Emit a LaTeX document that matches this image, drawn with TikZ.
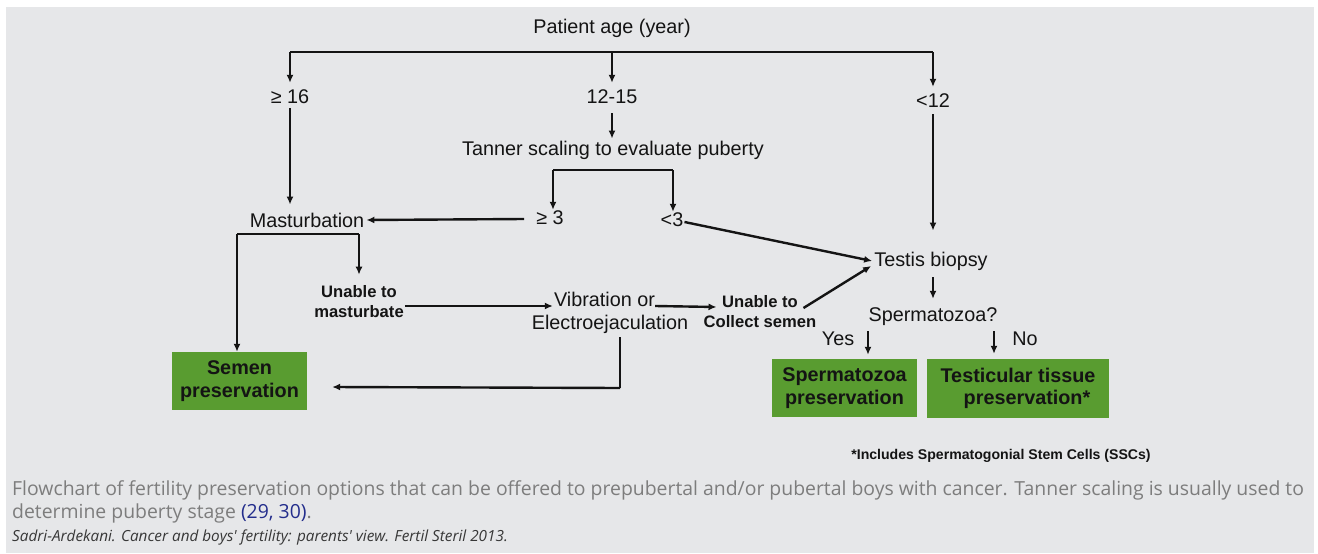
\documentclass[tikz,border=0pt]{standalone}
\usepackage{fontspec}
\setmainfont{Liberation Sans}
\newfontfamily\capfont{Open Sans}
\usetikzlibrary{arrows.meta,calc}
\definecolor{bg}{RGB}{230,231,233}
\definecolor{grn}{RGB}{89,156,48}
\definecolor{capgray}{RGB}{125,125,125}
\definecolor{refblue}{RGB}{35,45,140}
\definecolor{ink}{RGB}{20,20,20}
\begin{document}
\begin{tikzpicture}[x=1pt,y=-1pt,
  lbl/.style={font=\fontsize{19.8}{23}\selectfont, inner sep=4pt, text=ink},
  blbl/.style={font=\fontsize{16.6}{20}\selectfont\bfseries, align=center, inner sep=2pt, text=ink},
  box/.style={fill=grn, font=\fontsize{19.8}{22.5}\selectfont\bfseries, align=center, inner sep=0pt, text=ink},
  arr/.style={-{Latex[length=8pt,width=7pt]}, line width=1.8pt, draw=ink},
  harr/.style={-{Latex[length=8pt,width=7pt]}, line width=2.4pt, draw=ink},
  ln/.style={line width=1.2pt, draw=ink}]
\useasboundingbox (0,0) rectangle (1318,554);
\fill[white] (0,0) rectangle (1318,554);
\fill[bg] (6,7) rectangle (1314,553);

% text nodes
\node[lbl] (age) at (612,28) {Patient age (year)};
\node[lbl] (a16) at (290,97) {≥ 16};
\node[lbl] (a1215) at (612,97) {12-15};
\node[lbl] (a12) at (933,101) {<12};
\node[lbl] (tanner) at (613,150) {Tanner scaling to evaluate puberty};
\node[lbl] (t3) at (550,218) {≥ 3};
\node[lbl] (t31) at (672,220) {<3};
\node[lbl] (mast) at (307,220) {Masturbation};
\node[blbl] (unm) at (359,302) {Unable to\\masturbate};
\node[lbl] (vib1) at (604.5,299) {Vibration or};
\node[lbl] (vib2) at (610,324) {Electroejaculation};
\node[blbl] (unc) at (760,312) {Unable to\\Collect semen};
\node[lbl] (testis) at (931,261) {Testis biopsy};
\node[lbl] (spq) at (933,317) {Spermatozoa?};
\node[lbl] (yes) at (838,339) {Yes};
\node[lbl] (no) at (1025,339) {No};

% boxes
\node[box, minimum width=135pt, minimum height=58pt] (semen) at (239.5,381) {Semen\\preservation};
\node[box, minimum width=145pt, minimum height=58pt] (spbox) at (844.5,388) {Spermatozoa\\preservation};
\node[box, minimum width=182pt, minimum height=59pt] (ttbox) at (1018,388.5) {Testicular tissue\\\hspace*{18pt}preservation*};

% coordinates
\coordinate (barL) at (290,52);
\coordinate (barR) at (933,52);
\coordinate (tbl) at (553,170);
\coordinate (tbr) at (673,170);
\coordinate (mbl) at (237,234);
\coordinate (mbr) at (359,234);
\coordinate (ex) at (620,0);
\coordinate (ec) at (620,388);
\coordinate (yesx) at (868,0);
\coordinate (nox) at (994,0);

% top bar
\draw[ln] (barL) -- (barR);
\draw[arr] (barL) -- ($(a16.north)+(0,-3)$);
\draw[arr] (a1215.north |- barL) -- ($(a1215.north)+(0,-3)$);
\draw[arr] (barR) -- ($(a12.north)+(0,-3)$);

% >=16 to masturbation
\draw[arr] (a16.south) -- ($(a16.south |- mast.north)+(0,-4)$);
% 12-15 to tanner
\draw[arr] ($(a1215.south)+(0,5)$) -- ($(a1215.south |- tanner.north)+(0,2)$);
% tanner bracket
\draw[ln] (tbl) -- (tbr);
\draw[arr] (tbl) -- ($(tbl |- t3.north)+(0,3)$);
\draw[arr] (tbr) -- ($(tbr |- t31.north)+(0,3)$);
% >=3 to masturbation
\draw[harr] ($(t3.west)+(-8,1)$) -- ($(mast.east)+(-2,0)$);
% <3 to testis
\draw[harr] ($(t31.east)+(-3,2)$) -- ($(testis.west)+(2,0)$);
% <12 to testis
\draw[arr] ($(a12.south)+(0,2)$) -- ($(testis.north)+(2,-17)$);

% masturbation branch
\draw[ln] (mbl) -- (mbr);
\draw[arr] (mbl) -- (mbl |- semen.north);
\draw[arr] (mbr) -- ($(unm.north)+(0,-9)$);
\draw[harr] ($(unm.east)+(-1,4)$) -- ($(vib1.west)+(3,7)$);
\draw[harr] ($(vib1.east)+(-4,7)$) -- ($(unc.west)+(15,-5)$);
\draw[harr] ($(unc.east)+(-15,-4)$) -- ($(testis.west)+(1,5)$);

% electroejaculation to semen
\draw[ln] (vib2.south -| ex) -- (ec);
\draw[harr] (ec) -- ($(semen.east)+(25,6)$);

% testis to spermatozoa?
\draw[arr] ($(testis.south -| spq.north)+(0,3)$) -- ($(spq.north)+(0,-5)$);
\draw[arr] ($(spq.south -| yesx)+(0,1)$) -- ($(spbox.north -| yesx)+(0,-4)$);
\draw[arr] ($(spq.south -| nox)+(0,1)$) -- ($(ttbox.north -| nox)+(0,-5)$);

% footnote and caption
\node[font=\fontsize{14.1}{16}\selectfont\bfseries, text=ink, inner sep=0pt] (fn) at (1001,456) {*Includes Spermatogonial Stem Cells (SSCs)};
\node[font=\capfont\fontsize{19.4}{23.5}\selectfont, text=capgray, align=left, anchor=base west, inner sep=0pt] (cap) at (12,518.5)
  {Flowchart of fertility preservation options that can be offered to prepubertal and/or pubertal boys with cancer. Tanner scaling is usually used to\\
   determine puberty stage {\color{refblue}(29, 30)}.};
\node[font=\capfont\itshape\fontsize{15.3}{17}\selectfont, text=ink!85, anchor=base west, inner sep=0pt] (src) at (12,541)
  {Sadri-Ardekani. Cancer and boys' fertility: parents' view. Fertil Steril 2013.};
\end{tikzpicture}
\end{document}
